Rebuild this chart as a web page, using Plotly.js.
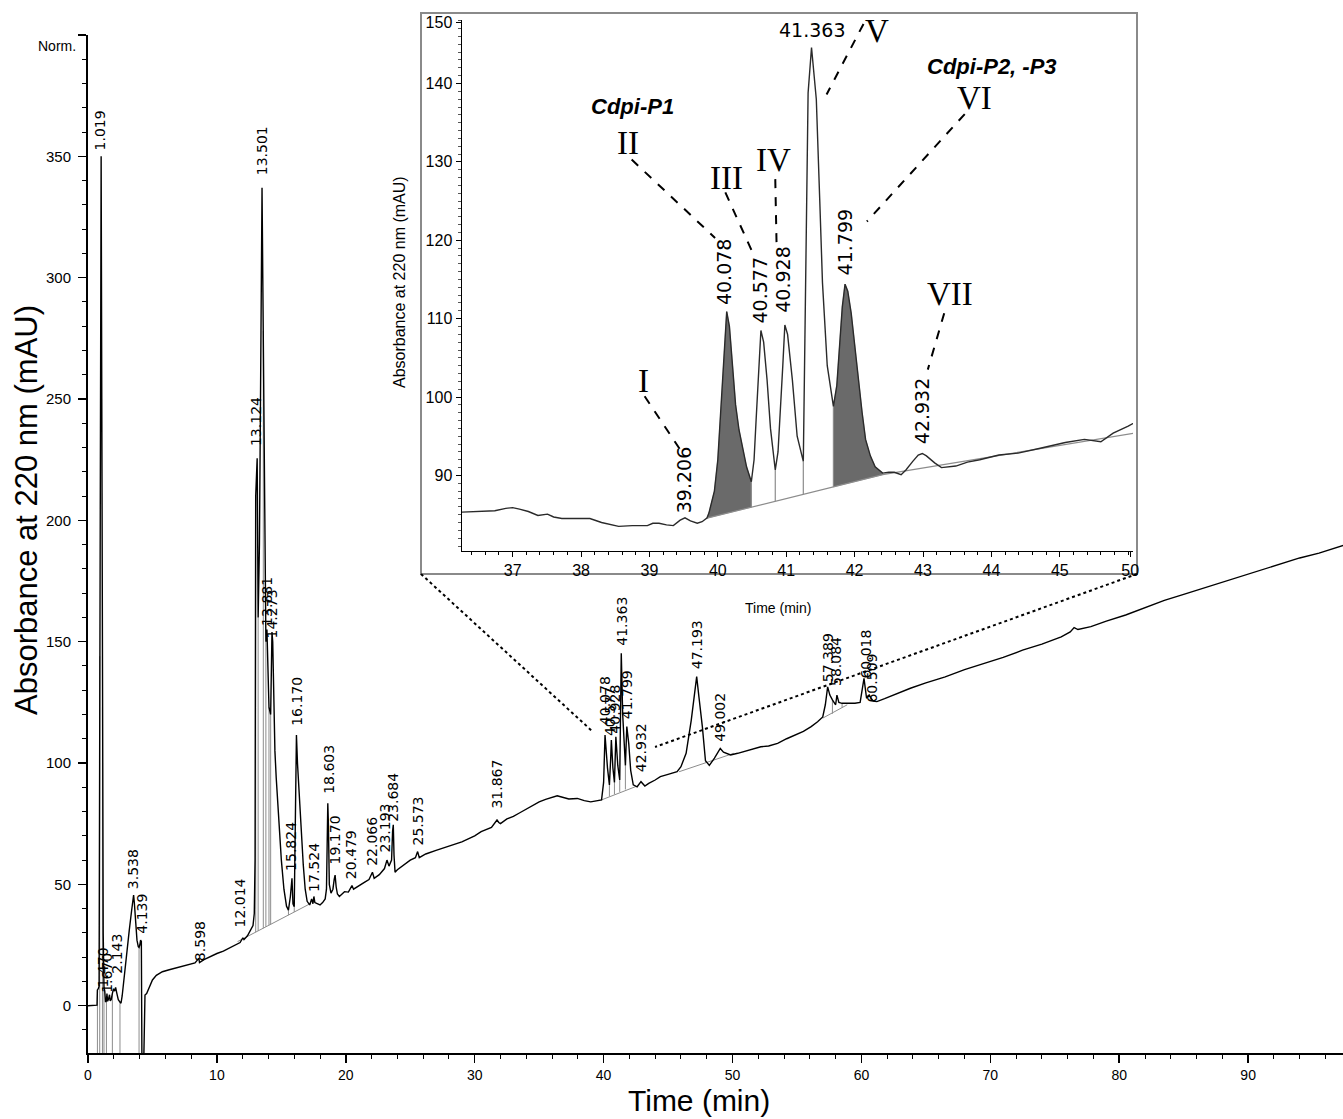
<!DOCTYPE html>
<html>
<head>
<meta charset="utf-8">
<script src="https://cdn.plot.ly/plotly-3.0.1.min.js"></script>
<style>html,body{margin:0;padding:0;background:#fff;}#chart{width:1343px;height:1119px;}</style>
</head>
<body>
<div id="chart"></div>
<script>
// ---------------- MAIN CHROMATOGRAM (Time, min / Absorbance, mAU) ----------------
const mainTime = [0,0.7,0.73,0.8,0.86,0.91,0.97,1.019,1.07,1.12,1.18,1.24,1.3,1.36,1.43,1.47,1.52,1.58,1.63,1.67,1.72,1.8,1.89,1.98,2.06,2.143,2.22,2.35,2.48,2.56,2.65,2.8,3.0,3.2,3.38,3.5,3.538,3.6,3.7,3.8,3.9,3.96,4.02,4.08,4.139,4.16,4.19,4.3,4.36,4.42,4.55,4.75,5.0,5.3,5.77,6.3,6.8,7.3,7.8,8.3,8.598,8.65,9.0,9.5,10.0,10.5,11.0,11.5,11.8,12.014,12.1,12.37,12.6,12.8,12.9,12.96,13.01,13.07,13.124,13.16,13.2,13.3,13.42,13.501,13.56,13.6,13.7,13.8,13.85,13.881,13.95,14.04,14.17,14.273,14.33,14.4,14.5,14.6,14.8,15.0,15.2,15.4,15.55,15.7,15.824,15.9,16.0,16.1,16.17,16.25,16.38,16.55,16.7,16.85,17.0,17.2,17.35,17.45,17.524,17.6,17.8,18.0,18.2,18.4,18.5,18.56,18.603,18.65,18.72,18.85,19.0,19.1,19.17,19.25,19.35,19.5,19.7,19.9,20.2,20.479,20.6,21.0,21.5,21.8,22.066,22.2,22.6,23.0,23.193,23.35,23.55,23.63,23.684,23.74,23.82,24.0,24.5,25.0,25.4,25.573,25.7,26.2,27.0,28.1,29.0,30.0,30.5,31.3,31.73,31.867,32.0,32.5,33.0,33.5,34.0,34.5,35.0,35.5,36.0,36.4,36.67,37.0,37.3,37.96,38.5,39.0,39.5,39.84,40.0,40.11,40.3,40.45,40.55,40.6,40.72,40.84,40.95,41.1,41.25,41.3,41.37,41.48,41.6,41.69,41.8,41.95,42.1,42.3,42.6,42.9,43.2,43.5,44.0,44.4,45.0,45.7,46.0,46.4,46.8,47.05,47.22,47.4,47.66,47.9,48.2,48.6,49.05,49.3,49.85,50.4,50.9,51.5,52.2,52.8,53.5,54.2,54.8,55.5,56.1,56.6,57.0,57.2,57.38,57.55,57.75,58.0,58.1,58.25,58.5,59.0,59.5,59.9,60.2,60.4,60.6,60.9,61.2,61.8,62.5,63.2,63.8,65.0,66.5,68.0,69.5,71.0,72.5,74.0,75.5,76.2,76.5,76.8,77.8,79.0,80.5,82.0,83.5,85.0,86.5,88.0,89.5,91.0,92.5,94.0,95.5,97.4];
const mainAbs = [0,0.2,6.5,7,8,144,300,350,250,123,30,7.8,6,1.5,2,5,1.8,2.5,3.8,4.5,2,2.5,5,7,6,7.5,5.5,2.5,1.5,1,4,12,22,31,39,44,45.6,42,33,27,24.3,24,25,27,26.5,12,-30,-30,-5,4.4,5,7.5,10.6,12.5,14,14.8,15.5,16.3,17,17.6,19.5,17.8,19,20.3,21.5,22.5,23.8,25,26,28,27.2,28.8,31,33,38,60,210,222,225.6,195,160,190,290,337,300,278,211,150,152,155,140,123,120,154,150,125,105,94,75,60,48,41,39.4,45,52.5,42,40.8,90,111.5,100,87.6,70,58,48,43,41.5,44,42,45,42.5,42,41.5,42.5,44,48,75,83.4,75,50,46.4,48,52,53.8,49,46,45,46,47,46.8,49.5,48,49.5,51,52,55,52.5,54,56.5,60,57.5,60,72,74.5,62,55,56,58,60,61,63.5,61,62.5,64,65.8,67.5,70,71.7,73.5,76.5,75.5,75,77,78,79.5,81,82.5,84,85,86,86.5,86.1,85.5,85.2,85.4,84.5,84,84.5,84.8,92,111.5,98,91,102,109.5,98,92,110.8,99,93,120,145.2,120,104,99,115,108,97,91,90.2,92.3,90.5,91.6,93,94.4,95.3,96.4,98.5,104,117.7,128,135.6,127,115,101,99,102,106,104.5,103.3,104,104.7,105.5,106.7,107,108.1,110,111.5,113,115,117,119,124,131.4,128,126,124,128,125,124.6,124.6,124.6,125,134.9,126.7,128,125.5,125.3,126.5,128,129.5,130.8,133,135.5,138.5,141,143.5,146.5,149,152,154,155.8,155,156.2,158.5,161,164,167,169.5,172,174.5,177,179.5,182,184.5,186.5,189.7];

// integration baseline segments (gray) and drop lines
const mainBaseTime = [11.6,17.3,null,39.84,42.5,null,45.85,48.05,50.1,null,57.0,58.9];
const mainBaseAbs  = [26.4,42.2,null,84.8,90.3,null,96.4,100.5,104,null,118.5,124];
const mainDropTime   = [0.73,0.91,1.12,1.24,1.43,1.89,2.48,3.96,13.01,13.2,13.6,13.8,14.04,14.17,15.55,16.0,40.45,40.84,41.25,41.69,47.9,57.75,58.5];
const mainDropTop    = [6.5,144,123,7.8,2,5,1.5,24,210,160,278,150,123,120,39.4,40.8,91,92,93,99,101,126,124.6];
const mainDropBottom = [-30,-30,-30,-30,-30,-30,-30,-30,30.3,30.8,31.9,32.5,33.2,33.5,37.3,38.6,86.2,87.1,88.1,89.1,100.2,120.3,122.8];

// peak retention-time labels (main chart)
const mainLabelText = ['1.019','1.470','1.670','2.143','3.538','4.139','8.598','12.014','13.124','13.501','13.881','14.273','15.824','16.170','17.524','18.603','19.170','20.479','22.066','23.193','23.684','25.573','31.867','40.078','40.577','40.928','41.363','41.799','42.932','47.193','49.002','57.389','58.084','60.018','60.509'];
const mainLabelTime = [0.93,1.15,1.42,2.22,3.51,4.16,8.64,11.79,13.09,13.5,13.83,14.25,15.8,16.19,17.48,18.64,19.16,20.46,22.01,23.04,23.69,25.62,31.73,40.11,40.5,40.89,41.4,41.79,42.96,47.22,49.03,57.43,58.08,60.28,60.8];
const mainLabelAbs  = [352,7,5,12.6,47.7,29.1,18.1,32,230.3,341.6,156,151,55.2,115,46.4,86.8,58,51.8,57.3,62.9,75.3,65.5,80.6,115,110.5,111.5,148,117.7,95.9,138.3,108.1,132.8,131.4,134.2,124.6];

const mainYTicks = [0,50,100,150,200,250,300,350,400];
const mainYTickText = ['0','50','100','150','200','250','300','350',''];

// ---------------- INSET (zoom 36–46 min) ----------------
const insetTime = [36.2,36.5,36.74,36.9,37.0,37.1,37.23,37.37,37.51,37.6,37.72,37.9,38.13,38.3,38.55,38.75,38.97,39.05,39.14,39.25,39.35,39.45,39.52,39.6,39.7,39.77,39.84,39.87,39.95,40.0,40.05,40.10,40.13,40.17,40.21,40.26,40.31,40.37,40.42,40.49,40.53,40.56,40.60,40.63,40.67,40.72,40.77,40.84,40.88,40.91,40.95,40.98,41.02,41.09,41.16,41.25,41.28,41.32,41.37,41.44,41.49,41.53,41.60,41.69,41.74,41.78,41.82,41.86,41.90,41.95,42.0,42.06,42.11,42.16,42.23,42.3,42.41,42.5,42.58,42.68,42.75,42.85,42.93,42.99,43.05,43.17,43.27,43.48,43.65,43.83,44.11,44.39,44.55,44.73,45.08,45.36,45.6,45.78,46.0,46.17];
const insetAbs = [85.3,85.4,85.5,85.8,85.9,85.7,85.4,84.9,85.06,84.7,84.5,84.5,84.5,84.0,83.5,83.6,83.6,83.9,83.9,83.7,83.6,84.3,84.6,84.2,83.9,84.1,84.55,85.2,88,92,99,107,110.9,109,104.3,99,95.8,93,91.1,89.2,92,97.1,104,108.5,107,102.2,96,90.7,93,97.1,104,109.2,108,102.2,95,91.8,114.6,138.8,144.6,138,125.2,114.6,104,98.8,101.5,106.5,111.5,114.4,113.5,110.7,106.5,102.2,98,94.6,92.5,91.1,90.3,90.4,90.4,90.1,90.7,91.8,92.6,92.8,92.5,91.6,91.0,91.2,91.7,92.0,92.6,92.85,93.2,93.5,94.2,94.6,94.3,95.4,96.3,97.1];
const insetBaseTime = [39.84,42.41,46.17];
const insetBaseAbs  = [84.55,90.1,95.5];
const insetDropTime = [40.49,40.84,41.25,41.69];
const shadeStart = [39.84,41.69];
const shadeEnd   = [40.49,42.41];

const insetLabelText = ['39.206','40.078','40.577','40.928','41.799','42.932'];
const insetLabelTime = [39.50,40.09,40.61,40.95,41.86,42.99];
const insetLabelAbs  = [85.0,111.6,109.2,110.6,115.4,93.9];
const apexLabelText = '41.363', apexLabelTime = 41.37, apexLabelAbs = 145.3;

const romanText = ['I','II','III','IV','V','VI','VII'];
const romanTime = [38.91,38.69,40.13,40.82,42.33,43.75,43.40];
const romanAbs  = [102.1,132.4,127.9,130.2,146.7,138.1,113.1];
// leader lines: [t0,v0,t1,v1]
const leaderT0 = [38.93,38.74,40.11,40.84,42.13,43.61,43.31];
const leaderV0 = [100.1,130.3,126.1,127.8,147.6,136.1,110.7];
const leaderT1 = [39.45,39.96,40.50,40.86,41.59,42.18,43.07];
const leaderV1 = [93.3,120.3,118.6,119.0,138.6,122.4,103.5];

const groupText = ['Cdpi-P1','Cdpi-P2, -P3'];
const groupTime = [38.75,44.01];
const groupAbs  = [137.1,142.2];

const insetXTicks = [37,38,39,40,41,42,43,44,45,46.03];
const insetXTickText = ['37','38','39','40','41','42','43','44','45','50'];
const insetYTicks = [90,100,110,120,130,140,147.8];
const insetYTickText = ['90','100','110','120','130','140','150'];

// zoom connector lines in main-axis coordinates [t0,v0,t1,v1]
const connT0 = [25.83,81.38], connV0 = [177.9,177.9];
const connT1 = [39.18,43.99], connV1 = [112.8,106.6];

// ---------------- helpers ----------------
function interp(xs, ys, x){
  for(let i=0;i<xs.length-1;i++){
    if(x>=xs[i] && x<=xs[i+1]){
      const f=(x-xs[i])/(xs[i+1]-xs[i]); return ys[i]+f*(ys[i+1]-ys[i]);
    }
  }
  return x<xs[0]?ys[0]:ys[ys.length-1];
}
function segs(xs, tops, bots){
  const X=[],Y=[];
  xs.forEach((x,i)=>{X.push(x,x,null);Y.push(tops[i],bots[i],null);});
  return {X,Y};
}

// ---------------- traces ----------------
const traces = [];
traces.push({x:mainBaseTime,y:mainBaseAbs,mode:'lines',line:{color:'#8c8c8c',width:1},xaxis:'x',yaxis:'y',hoverinfo:'skip'});
const md = segs(mainDropTime, mainDropTop, mainDropBottom);
traces.push({x:md.X,y:md.Y,mode:'lines',line:{color:'#8c8c8c',width:1},xaxis:'x',yaxis:'y',hoverinfo:'skip'});
traces.push({x:mainTime,y:mainAbs,mode:'lines',line:{color:'#000',width:1.4},xaxis:'x',yaxis:'y'});

// inset shading
shadeStart.forEach((a,k)=>{
  const b = shadeEnd[k];
  const px=[],py=[];
  insetTime.forEach((t,i)=>{ if(t>=a-1e-9 && t<=b+1e-9){px.push(t);py.push(insetAbs[i]);} });
  for(let i=px.length-1;i>=0;i--){px.push(px[i]);py.push(interp(insetBaseTime,insetBaseAbs,px[i]));}
  traces.push({x:px,y:py,mode:'lines',fill:'toself',fillcolor:'#6a6a6a',line:{color:'#6a6a6a',width:0.5},xaxis:'x2',yaxis:'y2',hoverinfo:'skip'});
});
traces.push({x:insetBaseTime,y:insetBaseAbs,mode:'lines',line:{color:'#8c8c8c',width:1.2},xaxis:'x2',yaxis:'y2',hoverinfo:'skip'});
const idTop = insetDropTime.map(t=>interp(insetTime,insetAbs,t));
const idBot = insetDropTime.map(t=>interp(insetBaseTime,insetBaseAbs,t));
const idd = segs(insetDropTime,idTop,idBot);
traces.push({x:idd.X,y:idd.Y,mode:'lines',line:{color:'#8c8c8c',width:1.2},xaxis:'x2',yaxis:'y2',hoverinfo:'skip'});
traces.push({x:insetTime,y:insetAbs,mode:'lines',line:{color:'#2a2a2a',width:1.4},xaxis:'x2',yaxis:'y2'});

// ---------------- layout geometry ----------------
const W=1343,H=1119,ML=88,MR=0,MT=13,MB=66;
const PW=W-ML-MR, PH=H-MT-MB;
const px2paperX = p => (p-ML)/PW;
const px2paperY = p => (H-MB-p)/PH;

const annotations = [];
mainLabelText.forEach((s,i)=>annotations.push({text:s,x:mainLabelTime[i],y:mainLabelAbs[i],xref:'x',yref:'y',showarrow:false,textangle:-90,xanchor:'center',yanchor:'bottom',font:{family:'DejaVu Sans, Arial',size:14,color:'#000'},borderpad:0}));
insetLabelText.forEach((s,i)=>annotations.push({text:s,x:insetLabelTime[i],y:insetLabelAbs[i],xref:'x2',yref:'y2',showarrow:false,textangle:-90,xanchor:'center',yanchor:'bottom',font:{family:'DejaVu Sans, Arial',size:19,color:'#000'},borderpad:0}));
annotations.push({text:apexLabelText,x:apexLabelTime,y:apexLabelAbs,xref:'x2',yref:'y2',showarrow:false,xanchor:'center',yanchor:'bottom',font:{family:'DejaVu Sans, Arial',size:19,color:'#000'},borderpad:0});
romanText.forEach((s,i)=>annotations.push({text:s,x:romanTime[i],y:romanAbs[i],xref:'x2',yref:'y2',showarrow:false,xanchor:'center',yanchor:'middle',font:{family:'Liberation Serif, Times New Roman, serif',size:33,color:'#000'}}));
groupText.forEach((s,i)=>annotations.push({text:'<b><i>'+s+'</i></b>',x:groupTime[i],y:groupAbs[i],xref:'x2',yref:'y2',showarrow:false,xanchor:'center',yanchor:'middle',font:{family:'Liberation Sans, Arial',size:22,color:'#000'}}));
// axis titles
annotations.push({text:'Absorbance at 220 nm (mAU)',xref:'paper',yref:'paper',x:px2paperX(27),y:px2paperY(510),textangle:-90,showarrow:false,xanchor:'center',yanchor:'middle',font:{family:'Liberation Sans, Arial',size:31,color:'#000'}});
annotations.push({text:'Time (min)',xref:'paper',yref:'paper',x:px2paperX(699),y:px2paperY(1118),showarrow:false,xanchor:'center',yanchor:'bottom',borderpad:0,font:{family:'Liberation Sans, Arial',size:30,color:'#000'}});
annotations.push({text:'Norm.',xref:'paper',yref:'paper',x:px2paperX(57),y:px2paperY(46),showarrow:false,xanchor:'center',yanchor:'middle',font:{family:'Liberation Sans Narrow, Arial Narrow, Liberation Sans, Arial',size:14,color:'#000'}});
annotations.push({text:'Absorbance at 220 nm (mAU)',xref:'paper',yref:'paper',x:px2paperX(400),y:px2paperY(282),textangle:-90,showarrow:false,xanchor:'center',yanchor:'middle',font:{family:'Liberation Sans, Arial',size:16,color:'#000'}});
annotations.push({text:'Time (min)',xref:'paper',yref:'paper',x:px2paperX(778),y:px2paperY(608),showarrow:false,xanchor:'center',yanchor:'middle',font:{family:'Liberation Sans, Arial',size:14,color:'#000'}});

const shapes = [];
shapes.push({type:'rect',xref:'paper',yref:'paper',x0:px2paperX(421),x1:px2paperX(1137),y0:px2paperY(574),y1:px2paperY(13),line:{color:'#8a8a8a',width:2},fillcolor:'rgba(0,0,0,0)',layer:'below'});
connT0.forEach((t,i)=>shapes.push({type:'line',xref:'x',yref:'y',x0:t,y0:connV0[i],x1:connT1[i],y1:connV1[i],line:{color:'#000',width:2,dash:'dot'}}));
leaderT0.forEach((t,i)=>shapes.push({type:'line',xref:'x2',yref:'y2',x0:t,y0:leaderV0[i],x1:leaderT1[i],y1:leaderV1[i],line:{color:'#000',width:2,dash:'dash'}}));

const narrow = 'Liberation Sans Narrow, Arial Narrow, Liberation Sans, Arial';
const layout = {
  width:W,height:H,
  margin:{l:ML,r:MR,t:MT,b:MB,pad:0},
  paper_bgcolor:'#fff',plot_bgcolor:'rgba(0,0,0,0)',
  showlegend:false,
  xaxis:{domain:[0,1],range:[0,97.36],anchor:'y',tickmode:'linear',tick0:0,dtick:10,
    ticks:'outside',ticklen:8,tickwidth:1.5,tickcolor:'#000',showline:true,linecolor:'#000',linewidth:2,
    showgrid:false,zeroline:false,tickfont:{family:narrow,size:14,color:'#000'},
    minor:{tickmode:'linear',tick0:0,dtick:2,ticks:'outside',ticklen:4,tickwidth:1,tickcolor:'#000',showgrid:false}},
  yaxis:{domain:[0,px2paperY(35)],range:[-19.5,400],anchor:'x',tickmode:'array',tickvals:mainYTicks,ticktext:mainYTickText,
    ticks:'outside',ticklen:8,tickwidth:1.5,tickcolor:'#000',showline:true,linecolor:'#000',linewidth:2,
    showgrid:false,zeroline:false,tickfont:{family:narrow,size:15,color:'#000'},ticklabelstandoff:4,
    minor:{tickmode:'linear',tick0:0,dtick:10,ticks:'outside',ticklen:4,tickwidth:1,tickcolor:'#000',showgrid:false}},
  xaxis2:{domain:[px2paperX(462),px2paperX(1133)],range:[36.26,46.07],anchor:'y2',tickmode:'array',tickvals:insetXTicks,ticktext:insetXTickText,
    ticks:'outside',ticklen:5,tickwidth:1,tickcolor:'#000',showline:true,linecolor:'#000',linewidth:1.5,
    showgrid:false,zeroline:false,tickfont:{family:'Liberation Sans, Arial',size:16,color:'#000'},
    minor:{tickmode:'linear',tick0:37,dtick:0.2,ticks:'outside',ticklen:3,tickwidth:1,tickcolor:'#000',showgrid:false}},
  yaxis2:{domain:[px2paperY(550.7),px2paperY(20)],range:[80.4,148.1],anchor:'x2',tickmode:'array',tickvals:insetYTicks,ticktext:insetYTickText,
    ticks:'outside',ticklen:5,tickwidth:1,tickcolor:'#000',showline:true,linecolor:'#000',linewidth:1.5,
    showgrid:false,zeroline:false,tickfont:{family:'Liberation Sans, Arial',size:16,color:'#000'},
    minor:{tickmode:'linear',tick0:80,dtick:1,ticks:'outside',ticklen:3,tickwidth:1,tickcolor:'#555',showgrid:false}},
  annotations:annotations,
  shapes:shapes
};
Plotly.newPlot('chart',traces,layout,{staticPlot:true,displayModeBar:false});
</script>
</body>
</html>
